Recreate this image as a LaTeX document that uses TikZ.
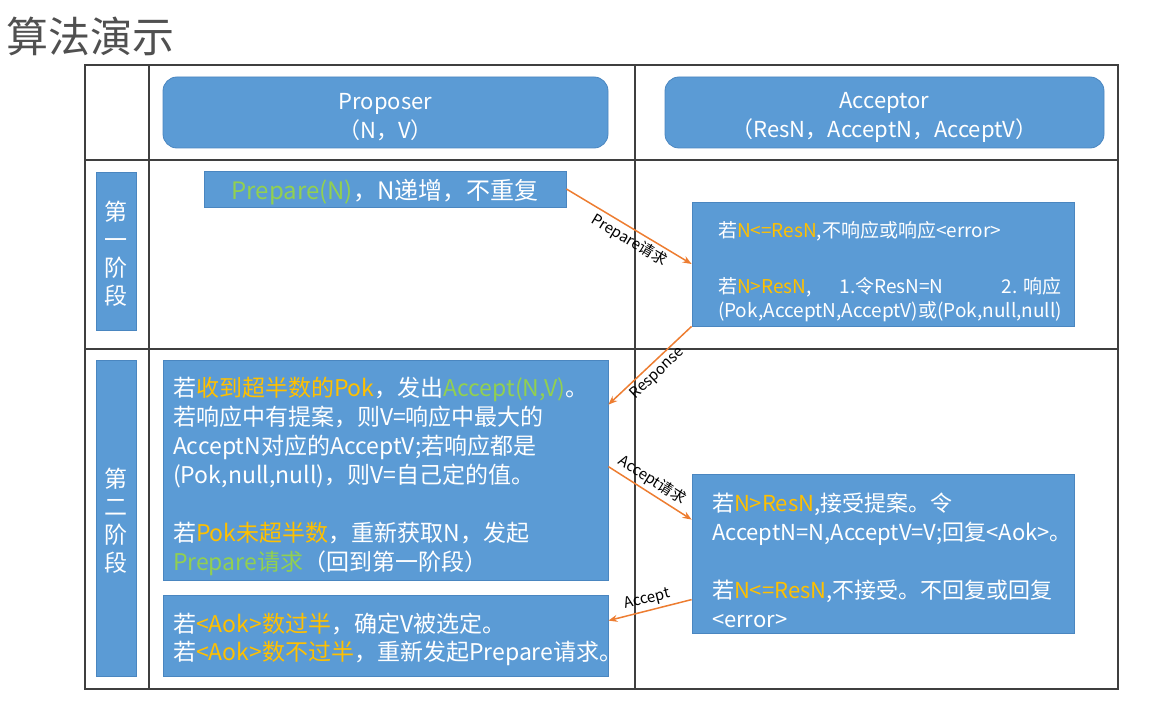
\documentclass[tikz,border=0pt]{standalone}
\usepackage{fontspec}
\setmainfont{Noto Sans CJK SC}
\usetikzlibrary{arrows.meta}
\definecolor{boxblue}{HTML}{5B9BD5}
\definecolor{boxedge}{HTML}{4A86C0}
\definecolor{hly}{HTML}{FFC000}
\definecolor{hlg}{HTML}{92D050}
\definecolor{arr}{HTML}{ED7D31}
\definecolor{gridc}{HTML}{3F3F3F}
\definecolor{titlec}{HTML}{505050}
\newcommand{\Yl}[1]{\textcolor{hly}{#1}}
\newcommand{\Gr}[1]{\textcolor{hlg}{#1}}
\newcommand{\topgap}[1]{\vrule width0pt height\dimexpr0.9em+#1\relax depth0pt\relax}
\tikzset{
  bluebox/.style={draw=boxedge, fill=boxblue, line width=0.8pt, text=white, inner sep=0pt},
  gridline/.style={draw=gridc, line width=1.2pt},
  arrowline/.style={draw=arr, line width=1.5pt, -{Stealth[length=9pt,width=7pt]}},
  arrowlabel/.style={sloped, font=\fontsize{15}{17}\selectfont, text=black, inner sep=2pt}
}
\begin{document}
\begin{tikzpicture}[x=1pt,y=-1pt]
\useasboundingbox (0,0) rectangle (1151,706);
% title
\node[anchor=west, text=titlec, font=\fontsize{42}{46}\selectfont, inner sep=0pt] (title) at (6,36) {算法演示};
% table
\draw[gridline] (85,65) rectangle (1118,689);
\draw[gridline] (149,65) -- (149,689);
\draw[gridline] (635,65) -- (635,689);
\draw[gridline] (85,160) -- (1118,160);
\draw[gridline] (85,349) -- (1118,349);
% headers
\node[bluebox, rounded corners=14pt, minimum width=445pt, minimum height=71pt, align=center, font=\fontsize{22}{29}\selectfont] (prop) at (385.5,112.5) {\topgap{6pt}Proposer\\（N，V）};
\node[bluebox, rounded corners=14pt, minimum width=439pt, minimum height=71pt, align=center, font=\fontsize{22}{29}\selectfont] (acc) at (884.5,112.5) {\topgap{6pt}Acceptor\\（ResN，AcceptN，AcceptV）};
% phase labels
\node[bluebox, minimum width=40pt, minimum height=158pt, align=center, font=\fontsize{23}{28}\selectfont] (ph1) at (116,251) {\topgap{4pt}第\\一\\阶\\段};
\node[bluebox, minimum width=40pt, minimum height=316pt, align=center, font=\fontsize{23}{28}\selectfont] (ph2) at (116,518) {\topgap{4pt}第\\二\\阶\\段};
% phase 1
\node[bluebox, minimum width=362pt, minimum height=36pt, font=\fontsize{24}{28}\selectfont] (prep) at (385,189) {\topgap{4pt}\Gr{Prepare(N)}，N递增，不重复};
\node[bluebox, minimum width=382pt, minimum height=124pt, text width=330pt, align=left, font=\fontsize{19}{24}\selectfont] (a1) at (883,264)
  {\topgap{14pt}若\Yl{N<=ResN},不响应或响应<error>\\[32pt]
   若\Yl{N>ResN},\kern28pt 1.令ResN=N\kern58pt 2.~响应\\
   (Pok,AcceptN,AcceptV)或(Pok,null,null)};
% phase 2
\node[bluebox, minimum width=445pt, minimum height=220pt, text width=425pt, align=left, font=\fontsize{23}{29}\selectfont] (p2) at (385.5,470)
  {\topgap{12pt}若\Yl{收到超半数的Pok}，发出\Gr{Accept(N,V)}。\\
   若响应中有提案，则V=响应中最大的\\
   AcceptN对应的AcceptV;若响应都是\\
   (Pok,null,null)，则V=自己定的值。\\[29pt]
   若\Yl{Pok未超半数}，重新获取N，发起\\
   \Gr{Prepare请求}（回到第一阶段）};
\node[bluebox, minimum width=445pt, minimum height=81pt, text width=425pt, align=left, font=\fontsize{23}{28}\selectfont] (aok) at (385.5,635.5)
  {\topgap{6pt}若\Yl{<Aok>数过半}，确定V被选定。\\
   若\Yl{<Aok>数不过半}，重新发起Prepare请求。};
\node[bluebox, minimum width=382pt, minimum height=159pt, text width=342pt, align=left, font=\fontsize{22}{29}\selectfont] (a2) at (883,553.5)
  {\topgap{12pt}若\Yl{N>ResN},接受提案。令\\
   AcceptN=N,AcceptV=V;回复<Aok>。\\[29pt]
   若\Yl{N<=ResN},不接受。不回复或回复\\
   <error>};
% arrows
\draw[arrowline] (prep.east) -- node[arrowlabel, below=1pt, pos=0.55] {Prepare请求} (a1.west);
\draw[arrowline] (a1.south west) -- node[arrowlabel, below=1pt] {Response} ([yshift=-45pt]p2.north east);
\draw[arrowline] ([yshift=-107pt]p2.north east) -- node[arrowlabel, above=1pt, pos=0.45] {Accept请求} ([yshift=-46pt]a2.north west);
\draw[arrowline] ([yshift=-126pt]a2.north west) -- node[arrowlabel, above=1pt] {Accept} ([yshift=-26pt]aok.north east);
\end{tikzpicture}
\end{document}
